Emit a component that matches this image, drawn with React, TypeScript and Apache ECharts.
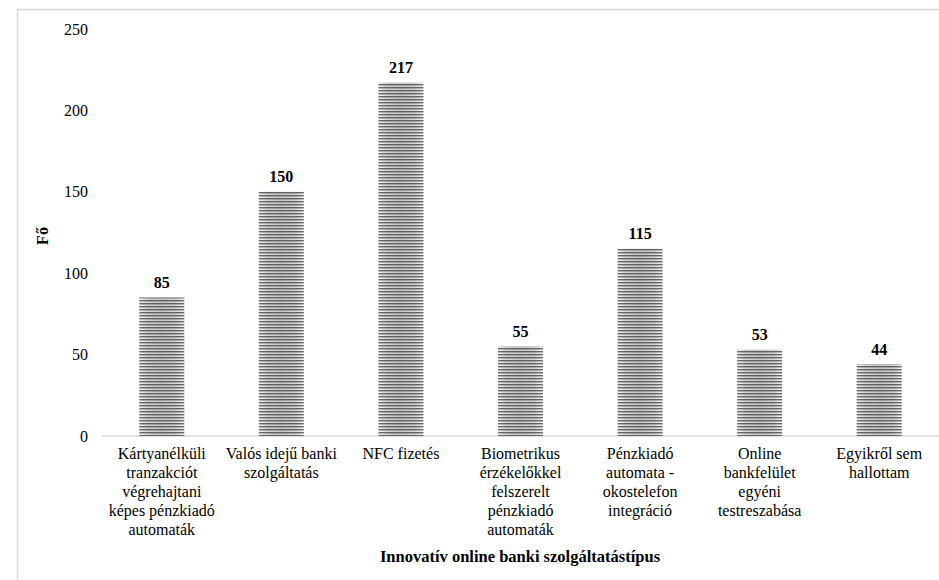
import React, { useEffect, useRef } from "react";
import * as echarts from "echarts";

// Survey answers: which innovative online banking service types respondents know of
const categories = [
  "Kártyanélküli\ntranzakciót\nvégrehajtani\nképes pénzkiadó\nautomaták",
  "Valós idejű banki\nszolgáltatás",
  "NFC fizetés",
  "Biometrikus\nérzékelőkkel\nfelszerelt\npénzkiadó\nautomaták",
  "Pénzkiadó\nautomata -\nokostelefon\nintegráció",
  "Online\nbankfelület\negyéni\ntestreszabása",
  "Egyikről sem\nhallottam",
];
const respondents = [85, 150, 217, 55, 115, 53, 44];

const yTicks = { min: 0, max: 250, interval: 50 };
const xAxisTitle = "Innovatív online banki szolgáltatástípus";
const yAxisTitle = "Fő";

const FONT = "Liberation Serif";

// Small tile of horizontal stripes laid over each bar
function makeStripeTile(): HTMLCanvasElement {
  const c = document.createElement("canvas");
  c.width = 4;
  c.height = 3;
  const ctx = c.getContext("2d")!;
  ctx.clearRect(0, 0, 4, 3);
  ctx.fillStyle = "rgba(60,60,60,0.75)";
  ctx.fillRect(0, 0, 4, 1);
  ctx.fillStyle = "rgba(60,60,60,0.3)";
  ctx.fillRect(0, 1, 4, 1);
  return c;
}

export default function App() {
  const ref = useRef<HTMLDivElement>(null);

  useEffect(() => {
    if (!ref.current) return;
    const chart = echarts.init(ref.current, null, { renderer: "svg" });
    const tile = makeStripeTile();

    const shading = {
      type: "linear",
      x: 0,
      y: 0,
      x2: 1,
      y2: 0,
      colorStops: [
        { offset: 0, color: "#f4f4f4" },
        { offset: 0.2, color: "#d2d2d2" },
        { offset: 0.5, color: "#c8c8c8" },
        { offset: 0.8, color: "#d2d2d2" },
        { offset: 1, color: "#f4f4f4" },
      ],
    };

    const labelText = { color: "#000", fontFamily: FONT, fontSize: 16 };

    chart.setOption({
      animation: false,
      backgroundColor: "#ffffff",
      textStyle: { fontFamily: FONT },
      grid: { left: 102, right: -3, top: 29, bottom: 144, containLabel: false },
      xAxis: {
        type: "category",
        data: categories,
        axisLine: { show: true, lineStyle: { color: "#d9d9d9", width: 1.5 } },
        axisTick: { show: false },
        axisLabel: {
          ...labelText,
          interval: 0,
          lineHeight: 19,
          margin: 8,
          align: "center",
        },
      },
      yAxis: {
        type: "value",
        min: yTicks.min,
        max: yTicks.max,
        interval: yTicks.interval,
        axisLine: { show: false },
        axisTick: { show: false },
        splitLine: { show: false },
        axisLabel: { ...labelText, margin: 14 },
      },
      series: [
        {
          type: "bar",
          data: respondents,
          barWidth: 45,
          itemStyle: { color: shading },
          label: {
            ...labelText,
            show: true,
            position: "top",
            distance: 7,
            fontWeight: "bold",
          },
        },
        {
          type: "bar",
          data: respondents,
          barWidth: 45,
          barGap: "-100%",
          silent: true,
          itemStyle: {
            color: { image: tile, repeat: "repeat", imageWidth: 4, imageHeight: 3 },
          },
        },
      ],
      graphic: [
        {
          type: "rect",
          shape: { x: 17.5, y: 9.5, width: 1000, height: 1000 },
          style: { fill: "none", stroke: "#d9d9d9", lineWidth: 1.5 },
          silent: true,
        },
        {
          type: "text",
          x: 42,
          y: 236,
          rotation: Math.PI / 2,
          style: {
            text: yAxisTitle,
            fill: "#000",
            fontFamily: FONT,
            fontSize: 16,
            fontWeight: "bold",
            align: "center",
            verticalAlign: "middle",
          },
        },
        {
          type: "text",
          x: 520,
          y: 556,
          style: {
            text: xAxisTitle,
            fill: "#000",
            fontFamily: FONT,
            fontSize: 16.5,
            fontWeight: "bold",
            align: "center",
            verticalAlign: "middle",
          },
        },
      ],
    });

    return () => chart.dispose();
  }, []);

  return (
    <div
      style={{
        position: "fixed",
        left: 0,
        top: 0,
        width: 939,
        height: 580,
        overflow: "hidden",
        background: "#fff",
      }}
    >
      <div ref={ref} style={{ width: 939, height: 580 }} />
    </div>
  );
}
